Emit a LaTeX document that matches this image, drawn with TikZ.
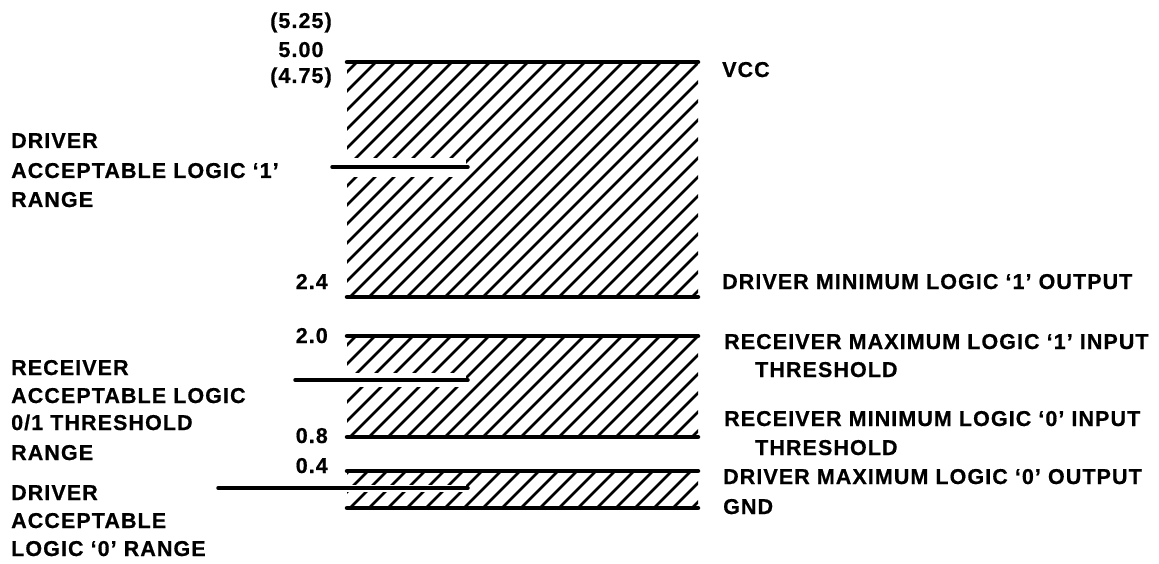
\documentclass[tikz,border=0pt]{standalone}
\usepackage{fontspec}
\setmainfont{Liberation Sans}[LetterSpace=5,BoldFeatures={FakeBold=0.6}]
\newcommand\hatchband[2]{%
  \begin{scope}
    \clip (347,#1) rectangle (698,#2);
    \foreach \k in {-13,...,19}
      \draw[hatch] ({350+19*\k},#2) -- ++({#2-#1},{#1-#2});
  \end{scope}}
\begin{document}
\begin{tikzpicture}[x=1pt,y=-1pt,
  lbl/.style={font=\bfseries\fontsize{21.5}{25}\selectfont, inner sep=0pt},
  lw/.style={lbl, anchor=base west},
  num/.style={lbl, anchor=base east},
  topv/.style={lbl, anchor=base},
  rail/.style={line width=4.5pt, line cap=round},
  tick/.style={line width=3.5pt, line cap=round},
  hatch/.style={line width=2.8pt},
  gap/.style={fill=white, draw=none}]
\useasboundingbox (0,0) rectangle (1159,564);

% hatched bands
\hatchband{62}{297}
\hatchband{336}{437}
\hatchband{471}{508}

% gaps and range ticks
\fill[gap] (345,158) rectangle (466,177);
\draw[tick] (332,167) -- (468,167);
\fill[gap] (345,373) rectangle (466,387);
\draw[tick] (295,380) -- (468,380);
\fill[gap] (345,484.5) rectangle (466,491.5);
\draw[tick] (218,488) -- (468,488);

% rails
\draw[rail] (347,62) -- (698,62);
\draw[rail] (347,297) -- (698,297);
\draw[rail] (347,336) -- (698,336);
\draw[rail] (347,437) -- (698,437);
\draw[rail] (347,471) -- (698,471);
\draw[rail] (347,508) -- (698,508);

% top values
\node[topv] (v525) at (301,28) {(5.25)};
\node[topv] (v500) at (301,57) {5.00};
\node[topv] (v475) at (301,83) {(4.75)};

% level numbers
\node[num] (n24) at (328,289) {2.4};
\node[num] (n20) at (328,343) {2.0};
\node[num] (n08) at (328,443) {0.8};
\node[num] (n04) at (328,473) {0.4};

% left labels
\node[lw] (l1a) at (11,148) {DRIVER};
\node[lw] (l1b) at (11,178) {ACCEPTABLE LOGIC ‘1’};
\node[lw] (l1c) at (11,207) {RANGE};
\node[lw] (l2a) at (11,375) {RECEIVER};
\node[lw] (l2b) at (11,403) {ACCEPTABLE LOGIC};
\node[lw] (l2c) at (11,430) {0/1 THRESHOLD};
\node[lw] (l2d) at (11,460) {RANGE};
\node[lw] (l3a) at (11,500) {DRIVER};
\node[lw] (l3b) at (11,528) {ACCEPTABLE};
\node[lw] (l3c) at (11,556) {LOGIC ‘0’ RANGE};

% right labels
\node[lw] (vcc) at (722,77) {VCC};
\node[lw] (r1) at (722,289) {DRIVER MINIMUM LOGIC ‘1’ OUTPUT};
\node[lw] (r2) at (724,349) {RECEIVER MAXIMUM LOGIC ‘1’ INPUT};
\node[lw] (r2b) at (755,377) {THRESHOLD};
\node[lw] (r3) at (724,426) {RECEIVER MINIMUM LOGIC ‘0’ INPUT};
\node[lw] (r3b) at (755,455) {THRESHOLD};
\node[lw] (r4) at (723,484) {DRIVER MAXIMUM LOGIC ‘0’ OUTPUT};
\node[lw] (gnd) at (723,514) {GND};
\end{tikzpicture}
\end{document}
